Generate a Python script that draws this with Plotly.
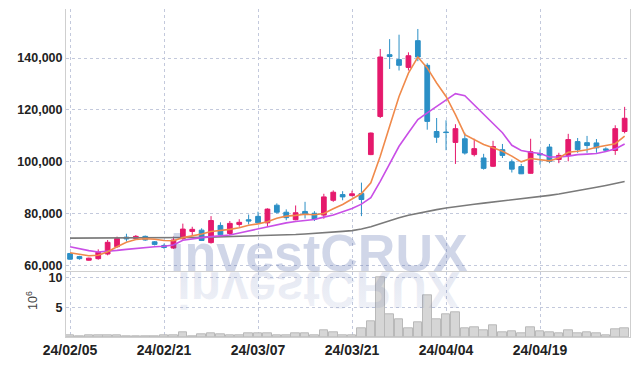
import base64
import plotly.graph_objects as go

dates = [
    "2024-02-05", "2024-02-06", "2024-02-07", "2024-02-08", "2024-02-13", "2024-02-14",
    "2024-02-15", "2024-02-16", "2024-02-19", "2024-02-20", "2024-02-21", "2024-02-22",
    "2024-02-23", "2024-02-26", "2024-02-27", "2024-02-28", "2024-02-29", "2024-03-04",
    "2024-03-05", "2024-03-06", "2024-03-07", "2024-03-08", "2024-03-11", "2024-03-12",
    "2024-03-13", "2024-03-14", "2024-03-15", "2024-03-18", "2024-03-19", "2024-03-20",
    "2024-03-21", "2024-03-22", "2024-03-25", "2024-03-26", "2024-03-27", "2024-03-28",
    "2024-03-29", "2024-04-01", "2024-04-02", "2024-04-03", "2024-04-04", "2024-04-05",
    "2024-04-08", "2024-04-09", "2024-04-11", "2024-04-12", "2024-04-15", "2024-04-16",
    "2024-04-17", "2024-04-18", "2024-04-19", "2024-04-22", "2024-04-23", "2024-04-24",
    "2024-04-25", "2024-04-26", "2024-04-29", "2024-04-30", "2024-05-02", "2024-05-03",
]

open_ = [64700, 63500, 62100, 62700, 64500, 67300, 71000, 70500, 71300, 69200,
         67800, 66800, 70400, 73200, 73700, 68900, 75500, 72400, 75900, 77700,
         79000, 76500, 83300, 80600, 77700, 80900, 80200, 79500, 85200, 87400,
         87000, 87800, 102800, 117500, 141300, 139400, 136400, 146700, 137200, 111700,
         111500, 107500, 108900, 102800, 101500, 98300, 104700, 100000, 98200, 95600,
         103200, 105700, 100900, 102500, 107800, 107400, 107300, 105000, 104400, 111700]
high = [64900, 63800, 63100, 66300, 69900, 71200, 72300, 71800, 71600, 69500,
        68500, 71200, 76200, 75000, 74400, 79100, 76700, 77200, 77900, 79700,
        80800, 82100, 84000, 81700, 83200, 84600, 81000, 87700, 89000, 88700,
        88900, 92000, 111300, 143500, 147300, 149000, 142200, 151200, 138000, 116900,
        116000, 114500, 111200, 108900, 103100, 108100, 106900, 100900, 99200, 108900,
        104700, 106900, 103500, 110800, 109200, 110000, 108800, 105600, 114100, 121200]
low = [62300, 62300, 61900, 62300, 64000, 66900, 69300, 70200, 69600, 67800,
       66500, 66500, 70000, 71500, 69500, 68500, 71500, 71800, 75000, 75900,
       76300, 75000, 80100, 77500, 77500, 78200, 77200, 78100, 84600, 85200,
       86700, 79100, 102600, 116900, 135800, 135200, 135200, 138800, 112400, 107300,
       104500, 99200, 102800, 102100, 97000, 98000, 101500, 95900, 95300, 95500,
       98900, 99500, 99500, 100200, 103500, 103500, 103500, 104000, 102700, 111000]
close = [62500, 62700, 62900, 65200, 69000, 70500, 70300, 71300, 69900, 68200,
         67000, 69900, 74100, 74000, 69700, 77400, 71900, 76300, 76700, 77200,
         76500, 81800, 80600, 78500, 80400, 80000, 77900, 86500, 88300, 86500,
         87700, 85500, 111100, 140400, 140600, 137200, 140900, 140400, 115600, 109500,
         111300, 112800, 103400, 105100, 97500, 105900, 102500, 97200, 95400, 103900,
         102700, 100200, 102500, 108600, 104700, 106300, 105400, 104500, 112800, 116800]

ma_short = [65000, 64300, 63800, 64000, 65400, 67300, 69000, 70100, 70400, 70200,
            69700, 69600, 70800, 71500, 72200, 73200, 73500, 74000, 74600, 75600,
            76100, 76900, 78300, 79100, 79400, 79800, 79600, 80100, 81900, 83600,
            85700, 87800, 91900, 102200, 113700, 125200, 134200, 140400, 136200, 130400,
            125200, 118200, 110500, 108600, 106700, 105400, 104100, 102200, 100000, 101300,
            100900, 100400, 101500, 103700, 104100, 104700, 105600, 106400, 107000, 109900]
ma_mid = [67300, 66500, 65800, 65300, 65500, 65900, 66300, 66700, 67000, 67300,
          67500, 68000, 69800, 70400, 70800, 71200, 71500, 71800, 72600, 73400,
          74300, 75100, 75900, 76500, 77000, 77400, 77800, 78700, 79500, 80800,
          82000, 83700, 86200, 92500, 99300, 106000, 111200, 116300, 118900, 121400,
          124000, 126300, 125500, 122000, 118200, 115000, 111200, 106400, 104400, 103700,
          103200, 101900, 101900, 102200, 102800, 103000, 103200, 104000, 105000, 106900]
ma_long = [70600, 70600, 70600, 70600, 70600, 70600, 70600, 70650, 70650, 70700,
           70700, 70750, 70800, 70850, 70900, 71000, 71050, 71100, 71200, 71300,
           71400, 71550, 71700, 71850, 72000, 72200, 72400, 72650, 72900, 73200,
           73500, 74100, 75000, 76200, 77400, 78500, 79400, 80200, 81000, 81600,
           82200, 82800, 83300, 83700, 84100, 84500, 84900, 85300, 85800, 86200,
           86600, 87100, 87600, 88200, 88800, 89500, 90200, 90900, 91600, 92400]

volume_m = [0.35, 0.2, 0.3, 0.3, 0.3, 0.3, 0.15, 0.15, 0.15, 0.15,
            0.3, 0.35, 0.75, 0.2, 0.5, 0.55, 0.5, 0.35, 0.35, 0.55,
            0.6, 0.7, 0.35, 0.35, 0.7, 0.7, 0.35, 1.2, 0.85, 0.35,
            0.35, 1.45, 2.6, 10.0, 3.9, 2.9, 1.4, 2.4, 7.0, 2.9,
            3.9, 4.2, 1.4, 1.6, 1.2, 2.0, 0.75, 0.9, 0.55, 1.7,
            0.9, 0.85, 0.55, 1.2, 0.55, 0.85, 0.55, 0.35, 1.35, 1.5]

tick_dates = ["2024-02-05", "2024-02-21", "2024-03-07", "2024-03-21", "2024-04-04", "2024-04-19"]
tick_labels = ["24/02/05", "24/02/21", "24/03/07", "24/03/21", "24/04/04", "24/04/19"]
price_ticks = [60000, 80000, 100000, 120000, 140000]
volume_ticks = [5, 10]
volume_unit = "10<sup>6</sup>"

watermark = "investCRUX"

RED = "#e5196c"
BLUE = "#2b8fc6"
GRID = "#c3c9dc"
FONT = "Liberation Sans"

# The page places the figure 8px from the top-left corner (default body margin),
# so the figure is sized and laid out in window pixels minus that offset.
OFF = 8
FW, FH = 639 - OFF, 366 - OFF
L, R, T, B = 66 - OFF, 9, 9 - OFF, 29
PW, PH = FW - L - R, FH - T - B
split_px = 272.3


def py(y_win):  # window pixel y -> paper y
    return (FH - B - (y_win - OFF)) / PH


def px_(x_win):  # window pixel x -> paper x
    return (x_win - OFF - L) / PW


fig = go.Figure()

fig.add_trace(go.Bar(
    x=dates, y=volume_m, xaxis="x", yaxis="y2",
    marker=dict(color="#d6d6d6", line=dict(color="#b9b9b9", width=1)),
    width=0.92, showlegend=False, hoverinfo="skip",
))

fig.add_trace(go.Scatter(x=dates, y=ma_long, mode="lines", line=dict(color="#7a7a7a", width=1.6),
                         xaxis="x", yaxis="y", showlegend=False, hoverinfo="skip"))
fig.add_trace(go.Scatter(x=dates, y=ma_mid, mode="lines", line=dict(color="#c94fe6", width=1.6),
                         xaxis="x", yaxis="y", showlegend=False, hoverinfo="skip"))
fig.add_trace(go.Scatter(x=dates, y=ma_short, mode="lines", line=dict(color="#f08a4b", width=1.6),
                         xaxis="x", yaxis="y", showlegend=False, hoverinfo="skip"))

fig.add_trace(go.Candlestick(
    x=dates, open=open_, high=high, low=low, close=close,
    xaxis="x", yaxis="y",
    increasing=dict(line=dict(color=RED, width=1), fillcolor=RED),
    decreasing=dict(line=dict(color=BLUE, width=1), fillcolor=BLUE),
    whiskerwidth=0, showlegend=False,
))

# reflected watermark (decorative mirror image)
svg = (
    '<svg xmlns="http://www.w3.org/2000/svg" width="300" height="48" viewBox="0 0 300 48">'
    '<defs><linearGradient id="g" x1="0" y1="0" x2="0" y2="1">'
    '<stop offset="0" stop-color="rgb(60,85,160)" stop-opacity="0.07"/>'
    '<stop offset="1" stop-color="rgb(60,85,160)" stop-opacity="0.15"/>'
    '</linearGradient></defs>'
    '<text transform="scale(1,-1)" x="4" y="0" font-family="Liberation Sans" font-weight="bold" '
    'font-size="52" textLength="283" lengthAdjust="spacingAndGlyphs" fill="url(#g)">'
    + watermark + '</text></svg>'
)
svg_uri = "data:image/svg+xml;base64," + base64.b64encode(svg.encode()).decode()

dom_split = py(split_px)
axis_font = dict(size=12.5, color="#222222", family=FONT, weight="bold")

fig.update_layout(
    width=FW, height=FH,
    margin=dict(l=L, r=R, t=T, b=B, autoexpand=False),
    paper_bgcolor="white", plot_bgcolor="white",
    showlegend=False,
    bargap=0, boxgap=0.28,
    font=dict(family=FONT, color="#222222"),
    xaxis=dict(
        type="category", anchor="y2", domain=[0, 1], automargin=False,
        range=[-0.43, 59.57],
        tickmode="array", tickvals=tick_dates, ticktext=tick_labels,
        tickfont=dict(size=14, color="#222222", family=FONT, weight="bold"),
        showgrid=True, gridcolor=GRID, griddash="dot", gridwidth=1,
        showline=True, linecolor="#cfcfcf", mirror=True,
        ticks="", rangeslider=dict(visible=False), zeroline=False,
    ),
    yaxis=dict(
        domain=[dom_split, 1], anchor="x", automargin=False,
        range=[57450, 158900],
        tickmode="array", tickvals=price_ticks,
        tickformat=",d",
        tickfont=axis_font,
        showgrid=True, gridcolor=GRID, griddash="dot", gridwidth=1,
        showline=True, linecolor="#cfcfcf", mirror=True,
        ticks="", zeroline=False,
    ),
    yaxis2=dict(
        domain=[0, dom_split], anchor="x", automargin=False,
        range=[0, 10.9],
        tickmode="array", tickvals=volume_ticks,
        tickfont=dict(size=12.5, color="#222222", family=FONT, weight="bold"),
        showgrid=True, gridcolor=GRID, griddash="dot", gridwidth=1,
        showline=True, linecolor="#cfcfcf", mirror=True,
        ticks="", zeroline=False,
    ),
    annotations=[
        dict(
            text="<b>" + watermark + "</b>", xref="paper", yref="paper",
            x=px_(318.5), y=py(271.5 + 12), xanchor="center", yanchor="bottom",
            showarrow=False,
            font=dict(family=FONT, size=52, color="rgba(60,85,160,0.24)"),
        ),
        dict(
            text=volume_unit, xref="paper", yref="paper",
            x=px_(32), y=py(301), xanchor="center", yanchor="middle",
            textangle=-90, showarrow=False,
            font=dict(family=FONT, size=12.5, color="#444444"),
        ),
    ],
    images=[dict(
        source=svg_uri, xref="paper", yref="paper",
        x=px_(173), y=dom_split, sizex=300 / PW, sizey=48 / PH,
        xanchor="left", yanchor="top", sizing="stretch", layer="above",
    )],
)

fig.write_html("out.html")
